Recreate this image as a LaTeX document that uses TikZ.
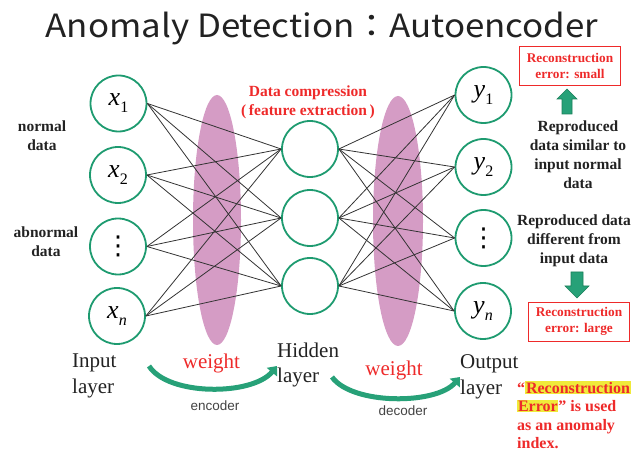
\documentclass[tikz,border=0pt]{standalone}
\usepackage{fontspec}
\usepackage{graphicx}
\setmainfont{Liberation Serif}
\setsansfont{Liberation Sans}
\newfontfamily\cjkfont{Noto Sans CJK JP}
\newfontfamily\symfont{DejaVu Sans}
\usetikzlibrary{arrows.meta}

\definecolor{nodegreen}{HTML}{1E9B70}
\definecolor{weightpink}{HTML}{D59CC5}
\definecolor{alertred}{HTML}{EE2A2A}
\definecolor{arrowgreen}{HTML}{27A178}
\definecolor{arrowedge}{HTML}{1B7F5A}
\definecolor{edgegray}{HTML}{333333}
\definecolor{hiyellow}{HTML}{F0EA3A}
\definecolor{labelgray}{HTML}{222222}

% neuron label: italic letter with a lowered index
\newcommand\neuronlabel[2]{{\fontsize{26}{26}\selectfont\itshape #1}\raisebox{-7pt}{\fontsize{16}{16}\selectfont #2}}
% vertical ellipsis for the elided units
\newcommand\elided{{\symfont\fontsize{26}{26}\selectfont ⋮}}
\newcommand\hlword[1]{{\setlength{\fboxsep}{0.8pt}\colorbox{hiyellow}{#1}}}

\begin{document}
\begin{tikzpicture}[x=1pt,y=-1pt,
  neuron/.style={circle,draw=nodegreen,line width=1.8pt,minimum size=56pt,inner sep=0pt,fill=white},
  link/.style={draw=edgegray,line width=0.8pt},
  sidenote/.style={font=\bfseries\fontsize{15.5}{19}\selectfont,text=labelgray,align=center,inner sep=0pt,anchor=base},
  rednote/.style={font=\bfseries\fontsize{15.5}{19}\selectfont,text=alertred,align=center,inner sep=0pt,anchor=base},
  errbox/.style={draw=alertred,line width=0.8pt,minimum width=101pt,minimum height=39pt,inner sep=0pt,
    font=\bfseries\fontsize{13.3}{16}\selectfont,text=alertred,align=center},
  layerlabel/.style={font=\fontsize{21}{25.5}\selectfont,text=labelgray,align=left,inner sep=0pt,anchor=base west},
  weightlabel/.style={font=\fontsize{21}{21}\selectfont,text=alertred,inner sep=0pt,anchor=base},
  codername/.style={font=\sffamily\fontsize{13.5}{13.5}\selectfont,text=labelgray!85,inner sep=0pt,anchor=base},
  sweep/.style={draw=arrowgreen,line width=5pt,-{Triangle[length=8pt,width=13pt]}},
  blockarrow/.style={fill=arrowgreen,draw=arrowedge,line width=0.6pt,line join=miter}
]
\useasboundingbox (0,0) rectangle (632,454);

% title
\node[inner sep=0pt,anchor=base,text=labelgray] (title) at (322,38)
  {\scalebox{1.09}[1]{\cjkfont\fontsize{32}{32}\selectfont Anomaly Detection：Autoencoder}};

% weight regions
\fill[weightpink] (217,220) ellipse [x radius=24, y radius=125];
\fill[weightpink] (398,221) ellipse [x radius=25, y radius=125];

% input layer
\node[neuron] (i1) at (118.5,103.5) {\neuronlabel{x}{1}};
\node[neuron] (i2) at (118,175) {\neuronlabel{x}{2}};
\node[neuron] (i3) at (118,246.5) {\elided};
\node[neuron] (i4) at (117,316) {\neuronlabel{x}{\itshape n}};

% hidden layer
\node[neuron] (h1) at (310,149) {};
\node[neuron] (h2) at (310,218) {};
\node[neuron] (h3) at (310,286) {};

% output layer
\node[neuron] (o1) at (483.5,95) {\neuronlabel{y}{1}};
\node[neuron] (o2) at (483.5,167) {\neuronlabel{y}{2}};
\node[neuron] (o3) at (483.5,238) {\elided};
\node[neuron] (o4) at (483,311) {\neuronlabel{y}{\itshape n}};

% fully connected weights
\foreach \a in {i1,i2,i3,i4}
  \foreach \b in {h1,h2,h3}
    \path[link] (\a.east) -- (\b.west);
\foreach \a in {h1,h2,h3}
  \foreach \b in {o1,o2,o3,o4}
    \path[link] (\a.east) -- (\b.west);

% left-hand notes (anchored on the baseline of the last line)
\node[sidenote] (normal) at (42,151) {normal\\data};
\node[sidenote] (abnormal) at (46,257) {abnormal\\data};

% hidden layer note
\node[rednote] (compress) at (308,116) {Data compression\\(\,feature extraction\,)};

% right-hand notes
\node[errbox] (small) at (570,65.5) {Reconstruction\\error: small};
\node[sidenote] (similar) at (578,188.5) {Reproduced\\data similar to\\input normal\\data};
\node[sidenote] (different) at (574,263.5) {Reproduced data\\different from\\input data};
\node[errbox] (large) at (579,321.5) {Reconstruction\\error: large};

% block arrows
\path[blockarrow] (562,114) -- (562,99) -- (557,99) -- (567,89) -- (577,99) -- (572,99) -- (572,114) -- cycle;
\path[blockarrow] (571,272) -- (583,272) -- (583,286) -- (589,286) -- (577,298) -- (565,286) -- (571,286) -- cycle;

% layer names
\node[layerlabel] (inlbl) at (72,393) {Input\\layer};
\node[layerlabel] (hidlbl) at (277,382.5) {Hidden\\layer};
\node[layerlabel] (outlbl) at (460,394.5) {Output\\layer};

% weights and coder sweeps
\node[weightlabel] (w1) at (211.5,368) {weight};
\node[weightlabel] (w2) at (394,375) {weight};
\coordinate (encA) at (149,366);
\coordinate (encB) at (277,366);
\coordinate (decA) at (332,377);
\coordinate (decB) at (460,377);
\draw[sweep] (encA) .. controls (168,396) and (252,396) .. (encB);
\draw[sweep] (decA) .. controls (352,405) and (436,405) .. (decB);
\node[codername] (enc) at (215,410) {encoder};
\node[codername] (dec) at (403,415) {decoder};

% conclusion
\node[font=\bfseries\fontsize{16}{18.5}\selectfont,text=alertred,align=left,inner sep=0pt,anchor=base west] (index) at (517,448.5)
  {“\hlword{Reconstruction}\\\hlword{Error}” is used\\as an anomaly\\index.};
\end{tikzpicture}
\end{document}
